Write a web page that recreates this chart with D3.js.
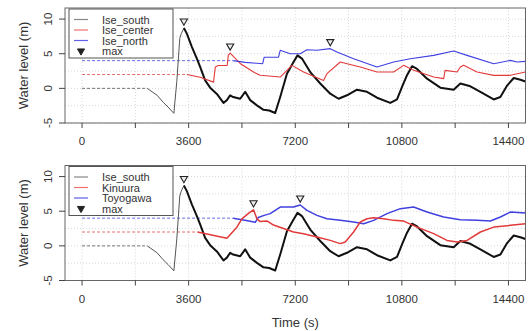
<!DOCTYPE html>
<html>
<head>
<meta charset="utf-8">
<script src="https://cdn.jsdelivr.net/npm/d3@7"></script>
<style>
    body { margin: 0; background: #fff; }
    text { font-family: "Liberation Sans", Arial, sans-serif; fill: #333; }
</style>
</head>
<body>
<script>
    // time (s), water level (m)
    const iseSouth = [[0,0],[2200,0],[2535,-1.0],[2738,-2.0],[2906,-2.7],[3100,-3.6],[3200,1.0],[3300,7.2],[3350,7.9],
        [3440,8.7],[3539,7.9],[3708,6.0],[3877,4.3],[3988,3.1],[4157,1.15],[4326,0.1],[4553,-0.8],[4776,-2.1],[4891,-1.7],
        [5002,-1.0],[5104,-1.25],[5340,-1.5],[5509,-0.5],[5678,-1.7],[5905,-2.45],[6128,-3.1],[6321,-3.2],[6523,-3.56],
        [6692,-1.25],[6919,2.1],[7142,3.8],[7277,4.76],[7426,4.3],[7706,2.35],[8044,0.7],[8382,-0.77],[8663,-1.5],
        [8947,-1.0],[9285,-0.2],[9623,-0.5],[9961,-1.35],[10410,-2.1],[10637,-1.6],[10806,0.2],[10975,1.9],[11144,3.2],
        [11313,2.8],[11651,1.4],[12100,0.1],[12550,-0.2],[12776,0.7],[13114,0.3],[13452,-0.5],[13902,-1.6],[14128,-1.25],
        [14355,0.4],[14579,1.5],[14804,1.25],[14973,1.0]];
    const iseCenter = [[0,2],[3539,2],[3988,1.6],[4440,0.9],[4500,3.1],[4600,3.3],[4900,3.3],[4940,4.8],[5002,5.1],
        [5340,3.6],[5790,2.35],[6016,1.9],[6692,1.63],[7088,3.32],[7481,2.36],[8157,1.15],[8270,2.12],[8720,3.8],
        [8947,3.56],[9396,3.08],[9961,2.36],[10523,2.36],[10860,3.32],[11198,2.6],[11874,1.63],[12212,1.4],[12260,2.6],
        [12665,2.36],[12776,3.08],[12888,3.32],[13340,2.36],[13902,1.88],[14466,1.88],[14973,2.36]];
    const iseNorth = [[0,4],[5104,4],[5509,3.75],[6100,3.56],[6150,4.5],[6636,4.5],[6692,5.5],[7030,5.0],[7368,5.0],
        [7595,5.58],[7933,5.5],[8382,5.73],[8608,5.24],[9170,4.28],[9961,3.08],[10523,3.8],[11086,4.28],[11874,4.76],
        [12550,5.39],[13002,4.76],[13902,3.56],[14466,4.04],[14692,3.8],[14973,3.9]];
    const kinuura = [[0,2],[3900,2],[4891,1.1],[5229,2.7],[5398,3.9],[5621,4.7],[5790,5.2],[5905,3.9],[6016,3.5],
        [6243,3.6],[6466,3.0],[6804,2.5],[7142,2.0],[7481,1.76],[7933,1.27],[8382,0.79],[8720,0.32],[8889,0.55],
        [9170,2.0],[9396,3.44],[9623,3.92],[9848,4.07],[10186,3.92],[10523,3.68],[10860,3.58],[11313,2.71],[11874,1.76],
        [12326,0.79],[12665,0.55],[13002,0.79],[13452,2.0],[13902,2.71],[14466,2.96],[14973,3.2]];
    const toyogawa = [[0,4],[5104,4],[5500,3.7],[5850,3.4],[5950,4.1],[6150,4.4],[6354,4.65],[6692,5.6],[7142,5.6],
        [7368,5.9],[7595,5.12],[7933,4.4],[8270,3.92],[8720,3.68],[9170,3.44],[9508,3.2],[9848,3.68],[10299,4.65],
        [10748,5.37],[11198,5.6],[11651,4.88],[12212,4.16],[12776,3.78],[13340,3.68],[13790,3.58],[14128,4.16],
        [14466,4.88],[14973,4.73]];

    const xTicks = [0, 1800, 3600, 5400, 7200, 9000, 10800, 12600, 14400];
    const xLabels = [0, 3600, 7200, 10800, 14400];
    const yTicks = [-5, 0, 5, 10];
    const yGrid = [-5, -2.5, 0, 2.5, 5, 7.5, 10];

    const panels = [
        { top: 8, bottom: 123, names: ["Ise_south", "Ise_center", "Ise_north"], series: [iseSouth, iseCenter, iseNorth] },
        { top: 165.5, bottom: 280.5, names: ["Ise_south", "Kinuura", "Toyogawa"], series: [iseSouth, kinuura, toyogawa] }
    ];
    const colors = ["#111", "#e23a3a", "#4040e0"];
    const legendColors = ["#888", "#f07070", "#6060e8"];
    const dashColors = ["#777", "#e87070", "#6a6ae8"];

    const W = 531, H = 331;
    const left = 65, right = 525.5;

    const svg = d3.select("body").append("svg").attr("width", W).attr("height", H);

    const x = d3.scaleLinear().domain([-576, 14976]).range([left, right]);

    panels.forEach((p, pi) => {
        const y = d3.scaleLinear().domain([-5, 11.6]).range([p.bottom, p.top]);
        const g = svg.append("g");

        g.append("clipPath").attr("id", "clip" + pi)
            .append("rect").attr("x", left).attr("y", p.top).attr("width", right - left).attr("height", p.bottom - p.top);

        // grid
        g.append("g").selectAll("line").data(xTicks).join("line")
            .attr("x1", d => x(d)).attr("x2", d => x(d)).attr("y1", p.top).attr("y2", p.bottom)
            .attr("stroke", "#d8d8d8").attr("stroke-dasharray", "1,2");
        g.append("g").selectAll("line").data(yGrid).join("line")
            .attr("x1", left).attr("x2", right).attr("y1", d => y(d)).attr("y2", d => y(d))
            .attr("stroke", "#d8d8d8").attr("stroke-dasharray", "1,2");

        const line = d3.line().x(d => x(d[0])).y(d => y(d[1]));
        const plot = g.append("g").attr("clip-path", `url(#clip${pi})`);

        // initial level as dashed, then the record
        p.series.forEach((s, i) => {
            plot.append("path").attr("d", line(s.slice(0, 2)))
                .attr("fill", "none").attr("stroke", dashColors[i]).attr("stroke-width", 1)
                .attr("stroke-dasharray", "3,2");
        });
        // draw order: south, then blue, then red on top for the bottom panel
        const order = pi === 0 ? [0, 1, 2] : [0, 2, 1];
        order.forEach(i => {
            const s = p.series[i];
            if (i === 0) {
                const peak = d3.maxIndex(s, d => d[1]);
                plot.append("path").attr("d", line(s.slice(1, peak + 1)))
                    .attr("fill", "none").attr("stroke", "#555").attr("stroke-width", 1);
                plot.append("path").attr("d", line(s.slice(peak)))
                    .attr("fill", "none").attr("stroke", colors[0]).attr("stroke-width", 2)
                    .attr("stroke-linejoin", "round");
            } else {
                plot.append("path").attr("d", line(s.slice(1)))
                    .attr("fill", "none").attr("stroke", colors[i])
                    .attr("stroke-width", pi === 1 ? 1.5 : 1.1).attr("stroke-linejoin", "round");
            }
        });

        // max markers
        const tri = d3.symbol().type(d3.symbolTriangle).size(22);
        p.series.forEach(s => {
            const m = s[d3.maxIndex(s, d => d[1])];
            g.append("path").attr("d", tri())
                .attr("transform", `translate(${x(m[0])},${y(m[1]) - 7}) rotate(180)`)
                .attr("fill", "#eee").attr("stroke", "#222").attr("stroke-width", 1.1);
        });

        // box
        g.append("rect").attr("x", left).attr("y", p.top).attr("width", right - left).attr("height", p.bottom - p.top)
            .attr("fill", "none").attr("stroke", "#666");

        // x axis
        g.append("g").selectAll("line").data(xTicks).join("line")
            .attr("x1", d => x(d)).attr("x2", d => x(d)).attr("y1", p.bottom).attr("y2", p.bottom + 5)
            .attr("stroke", "#444");
        g.append("g").selectAll("text").data(xLabels).join("text")
            .attr("x", d => x(d)).attr("y", p.bottom + 22).attr("text-anchor", "middle")
            .attr("font-size", 11.5).text(d => d);

        // y axis
        g.append("g").selectAll("line").data(yTicks).join("line")
            .attr("x1", left - 6).attr("x2", left).attr("y1", d => y(d)).attr("y2", d => y(d))
            .attr("stroke", "#444");
        g.append("g").selectAll("text").data(yTicks).join("text")
            .attr("transform", d => `translate(52,${y(d)}) rotate(-90)`)
            .attr("text-anchor", "middle").attr("font-size", 11.5).text(d => d);
        g.append("text")
            .attr("transform", `translate(28,${(p.top + p.bottom) / 2}) rotate(-90)`)
            .attr("text-anchor", "middle").attr("font-size", 13).text("Water level (m)");

        // legend
        const lg = g.append("g").attr("transform", `translate(69,${p.top + 1})`);
        lg.append("rect").attr("width", 104).attr("height", 49)
            .attr("fill", "#fff").attr("stroke", "#555");
        const rows = p.names.concat(["max"]);
        rows.forEach((n, i) => {
            const ry = 10.5 + i * 10.5;
            if (i < 3) {
                lg.append("line").attr("x1", 5).attr("x2", 19).attr("y1", ry).attr("y2", ry)
                    .attr("stroke", legendColors[i]).attr("stroke-width", 1.2);
            } else {
                lg.append("path").attr("d", tri())
                    .attr("transform", `translate(12,${ry}) rotate(180)`)
                    .attr("fill", "#222").attr("stroke", "#222");
            }
            lg.append("text").attr("x", 33).attr("y", ry + 4).attr("font-size", 11).text(n);
        });
    });

    svg.append("text").attr("x", (left + right) / 2).attr("y", 327)
        .attr("text-anchor", "middle").attr("font-size", 13).text("Time (s)");
</script>
</body>
</html>
